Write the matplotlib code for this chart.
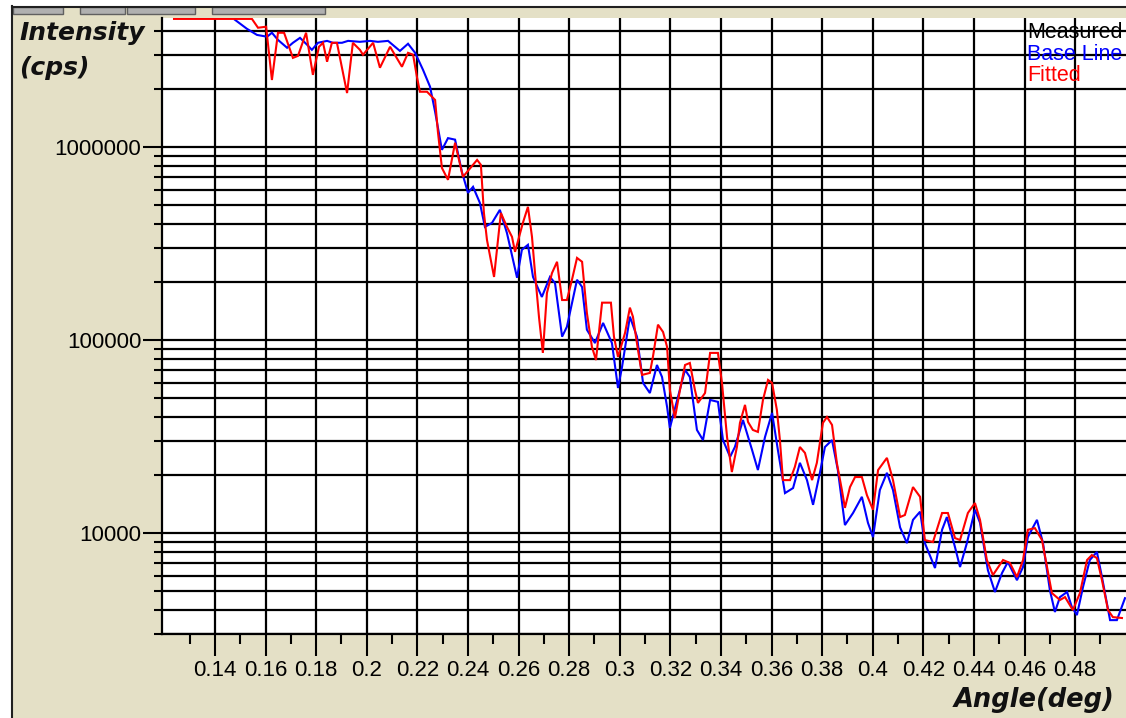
import matplotlib
matplotlib.use("Agg")
import matplotlib.pyplot as plt
from matplotlib.ticker import FixedLocator, FixedFormatter, NullFormatter, LogLocator
from matplotlib.patches import Rectangle
from matplotlib.lines import Line2D

# ---------------- data ----------------
angle_fitted = [0.1238, 0.1546, 0.1570, 0.1602, 0.1625, 0.1649, 0.1673, 0.1708, 0.1728, 0.1760,
                0.1787, 0.1811, 0.1827, 0.1843, 0.1862, 0.1882, 0.1922, 0.1945, 0.1973, 0.1985,
                0.2025, 0.2052, 0.2092, 0.2139, 0.2163, 0.2183, 0.2198, 0.2210, 0.2238, 0.2270,
                0.2281, 0.2297, 0.2321, 0.2349, 0.2380, 0.2436, 0.2451, 0.2463, 0.2475, 0.2503,
                0.2530, 0.2554, 0.2574, 0.2586, 0.2617, 0.2637, 0.2653, 0.2665, 0.2681, 0.2696,
                0.2712, 0.2732, 0.2752, 0.2772, 0.2791, 0.2811, 0.2831, 0.2851, 0.2870, 0.2890,
                0.2906, 0.2930, 0.2965, 0.2977, 0.2993, 0.3021, 0.3040, 0.3052, 0.3072, 0.3088,
                0.3119, 0.3131, 0.3151, 0.3171, 0.3187, 0.3198, 0.3218, 0.3238, 0.3258, 0.3277,
                0.3297, 0.3309, 0.3337, 0.3357, 0.3388, 0.3404, 0.3424, 0.3443, 0.3463, 0.3475,
                0.3495, 0.3507, 0.3526, 0.3546, 0.3566, 0.3586, 0.3602, 0.3621, 0.3633, 0.3645,
                0.3673, 0.3692, 0.3712, 0.3732, 0.3760, 0.3779, 0.3803, 0.3819, 0.3839, 0.3858,
                0.3878, 0.3890, 0.3910, 0.3930, 0.3957, 0.3977, 0.4001, 0.4021, 0.4056, 0.4080,
                0.4108, 0.4127, 0.4159, 0.4187, 0.4206, 0.4238, 0.4274, 0.4297, 0.4325, 0.4345,
                0.4376, 0.4404, 0.4424, 0.4451, 0.4475, 0.4515, 0.4542, 0.4570, 0.4594, 0.4613,
                0.4641, 0.4669, 0.4689, 0.4708, 0.4740, 0.4760, 0.4791, 0.4819, 0.4847, 0.4866,
                0.4886, 0.4906, 0.4930, 0.4949, 0.4985]
cps_fitted = [4.60e6, 4.60e6, 4.14e6, 4.19e6, 2.22e6, 3.90e6, 3.90e6, 2.89e6, 2.96e6, 3.90e6,
              2.36e6, 3.30e6, 3.46e6, 2.76e6, 3.46e6, 3.46e6, 1.90e6, 3.46e6, 3.18e6, 3.00e6,
              3.46e6, 2.57e6, 3.30e6, 2.60e6, 3.07e6, 3.00e6, 2.31e6, 1.93e6, 1.93e6, 1.75e6,
              1.20e6, 778000, 675000, 1.05e6, 699000, 856000, 807000, 455000, 330000, 212000,
              455000, 385000, 342000, 286000, 404000, 489000, 342000, 222000, 130000, 85700,
              175000, 222000, 254000, 161000, 161000, 205000, 266000, 254000, 138000, 92000,
              78700, 156000, 156000, 104000, 81700, 109000, 147000, 132000, 88700, 65900,
              67500, 81700, 120000, 110000, 92000, 55100, 39400, 55100, 74200, 76000,
              55100, 47200, 53100, 85700, 85700, 59900, 31400, 20700, 27900, 37200,
              46100, 37600, 34200, 33400, 48900, 62100, 59900, 43400, 30300, 18800,
              18800, 22000, 27900, 26000, 18800, 23100, 37200, 39900, 36300, 23100,
              16700, 13500, 17300, 19500, 19500, 15700, 13200, 21200, 24500, 18800,
              12100, 12400, 17300, 15400, 9200, 8980, 12700, 12700, 9420, 9200,
              12700, 14300, 11700, 7250, 6060, 7250, 7000, 5920, 7250, 10400,
              10600, 9200, 6670, 4890, 4500, 4660, 3990, 4890, 7250, 7690,
              7420, 5700, 3990, 3670, 3630]

angle_base = [0.1479, 0.1526, 0.1566, 0.1606, 0.1625, 0.1649, 0.1685, 0.1708, 0.1736, 0.1764,
              0.1783, 0.1807, 0.1843, 0.1866, 0.1902, 0.1926, 0.1973, 0.2013, 0.2044, 0.2084,
              0.2131, 0.2163, 0.2191, 0.2222, 0.2250, 0.2270, 0.2297, 0.2321, 0.2349, 0.2376,
              0.2400, 0.2420, 0.2447, 0.2467, 0.2495, 0.2526, 0.2554, 0.2594, 0.2613, 0.2637,
              0.2657, 0.2692, 0.2724, 0.2744, 0.2772, 0.2791, 0.2831, 0.2851, 0.2870, 0.2902,
              0.2934, 0.2969, 0.2993, 0.3009, 0.3040, 0.3068, 0.3092, 0.3119, 0.3147, 0.3167,
              0.3187, 0.3198, 0.3230, 0.3258, 0.3277, 0.3305, 0.3329, 0.3357, 0.3388, 0.3408,
              0.3436, 0.3455, 0.3487, 0.3523, 0.3546, 0.3574, 0.3602, 0.3625, 0.3653, 0.3685,
              0.3712, 0.3740, 0.3764, 0.3791, 0.3811, 0.3839, 0.3862, 0.3890, 0.3922, 0.3957,
              0.3981, 0.4001, 0.4028, 0.4056, 0.4080, 0.4108, 0.4135, 0.4159, 0.4187, 0.4206,
              0.4246, 0.4274, 0.4293, 0.4325, 0.4345, 0.4372, 0.4404, 0.4424, 0.4455, 0.4483,
              0.4511, 0.4534, 0.4570, 0.4594, 0.4613, 0.4649, 0.4673, 0.4700, 0.4720, 0.4740,
              0.4768, 0.4787, 0.4807, 0.4831, 0.4858, 0.4886, 0.4906, 0.4938, 0.4965, 0.4997]
cps_base = [4.55e6, 4.09e6, 3.80e6, 3.72e6, 3.90e6, 3.58e6, 3.26e6, 3.46e6, 3.67e6, 3.38e6,
            3.18e6, 3.46e6, 3.54e6, 3.46e6, 3.46e6, 3.54e6, 3.50e6, 3.54e6, 3.50e6, 3.54e6,
            3.14e6, 3.42e6, 3.07e6, 2.51e6, 2.05e6, 1.52e6, 965000, 1.11e6, 1.09e6, 742000,
            578000, 621000, 513000, 385000, 404000, 472000, 358000, 210000, 293000, 311000,
            212000, 167000, 212000, 197000, 104000, 117000, 205000, 188000, 113000, 96400,
            122500, 96400, 56400, 72500, 132000, 104000, 59900, 53100, 74200, 64300,
            45000, 35000, 50700, 70000, 64300, 34200, 30300, 48900, 47800, 30300,
            24800, 27900, 38500, 26900, 21200, 31400, 41900, 26900, 16100, 17100,
            23100, 18800, 14000, 20500, 27900, 30300, 21200, 11000, 12700, 15400,
            11300, 9530, 16700, 20500, 16700, 10700, 8870, 11700, 12900, 8870,
            6590, 10400, 12100, 8460, 6670, 8870, 13200, 11300, 6430, 4950,
            6210, 7080, 5700, 6670, 9530, 11700, 8870, 5070, 3900, 4660,
            4950, 4140, 3760, 5250, 7250, 7980, 5920, 3540, 3540, 4600]

x_major_ticks = [0.14, 0.16, 0.18, 0.20, 0.22, 0.24, 0.26, 0.28, 0.30, 0.32,
                 0.34, 0.36, 0.38, 0.40, 0.42, 0.44, 0.46, 0.48]
x_tick_labels = ["0.14", "0.16", "0.18", "0.2", "0.22", "0.24", "0.26", "0.28", "0.3", "0.32",
                 "0.34", "0.36", "0.38", "0.4", "0.42", "0.44", "0.46", "0.48"]
x_minor_ticks = [0.13, 0.15, 0.17, 0.19, 0.21, 0.23, 0.25, 0.27, 0.29, 0.31,
                 0.33, 0.35, 0.37, 0.39, 0.41, 0.43, 0.45, 0.47, 0.49]
y_major_ticks = [1e4, 1e5, 1e6]
y_tick_labels = ["10000", "100000", "1000000"]
legend_labels = ["Measured", "Base Line", "Fitted"]
legend_colors = ["#000000", "#0000FF", "#FF0000"]
x_range = (0.11905, 0.5001)
y_range = (3000, 4.65e6)

# ---------------- figure ----------------
W, H = 1126, 718
BEIGE = "#E4E0C6"
plt.rcParams["font.family"] = ["Liberation Sans", "DejaVu Sans"]

fig = plt.figure(figsize=(W / 100, H / 100), dpi=100)
fig.patch.set_facecolor(BEIGE)


def fx(px):
    return px / W


def fy(py):
    return 1 - py / H


# window chrome
fig.add_artist(Rectangle((0, 0), fx(12), 1, transform=fig.transFigure,
                         facecolor="white", edgecolor="none", zorder=0))
fig.add_artist(Rectangle((0, fy(6)), 1, 6 / H, transform=fig.transFigure,
                         facecolor="white", edgecolor="none", zorder=0))
fig.add_artist(Line2D([fx(12), fx(12)], [0, fy(6)], transform=fig.transFigure,
                      color="#202020", lw=1.5))
fig.add_artist(Line2D([fx(12), 1], [fy(6.5), fy(6.5)], transform=fig.transFigure,
                      color="#202020", lw=1.5))
for x0, x1 in [(13, 63), (80, 125), (127, 195), (212, 325)]:
    fig.add_artist(Rectangle((fx(x0), fy(14)), (x1 - x0) / W, 7 / H,
                             transform=fig.transFigure, facecolor="#B0B0B0",
                             edgecolor="#606060", lw=1.0))

ax = fig.add_axes([fx(162), fy(634), (1126 - 162) / W, (634 - 18) / H])
ax.set_facecolor("white")
ax.set_yscale("log")
ax.set_xlim(*x_range)
ax.set_ylim(*y_range)

# grid
ax.set_axisbelow(True)
ax.xaxis.set_major_locator(FixedLocator(x_major_ticks))
ax.xaxis.set_major_formatter(FixedFormatter(x_tick_labels))
ax.xaxis.set_minor_locator(FixedLocator(x_minor_ticks))
ax.xaxis.set_minor_formatter(NullFormatter())
ax.yaxis.set_major_locator(FixedLocator(y_major_ticks))
ax.yaxis.set_major_formatter(FixedFormatter(y_tick_labels))
ax.yaxis.set_minor_locator(LogLocator(base=10, subs=[2, 3, 4, 5, 6, 7, 8, 9], numticks=20))
ax.yaxis.set_minor_formatter(NullFormatter())

ax.grid(True, which="major", axis="x", color="black", lw=1.6)
ax.grid(True, which="both", axis="y", color="black", lw=1.6)

for s in ["top", "right"]:
    ax.spines[s].set_visible(False)
for s in ["left", "bottom"]:
    ax.spines[s].set_color("black")
    ax.spines[s].set_linewidth(1.6)

ax.tick_params(axis="x", which="major", direction="out", length=15.5, width=1.5,
               labelsize=16, pad=3, colors="black")
ax.tick_params(axis="x", which="minor", direction="out", length=7, width=1.5)
ax.tick_params(axis="y", which="major", direction="out", length=14, width=1.5,
               labelsize=16, pad=1, colors="black")
ax.tick_params(axis="y", which="minor", direction="out", length=5.5, width=1.5)

# data
ax.plot(angle_base, cps_base, color="#0000FF", lw=1.5, zorder=3, solid_joinstyle="miter")
ax.plot(angle_fitted, cps_fitted, color="#FF0000", lw=1.5, zorder=4, solid_joinstyle="miter")

# labels
lab_kw = dict(fontfamily="DejaVu Sans", fontweight="bold", fontstyle="italic", color="#111111")
fig.text(fx(19), fy(40), "Intensity", ha="left", va="baseline", fontsize=18, **lab_kw)
fig.text(fx(19), fy(75), "(cps)", ha="left", va="baseline", fontsize=18, **lab_kw)
fig.text(fx(1114), fy(707), "Angle(deg)", ha="right", va="baseline", fontsize=18.5, **lab_kw)

# legend text
for i, (lbl, col) in enumerate(zip(legend_labels, legend_colors)):
    fig.text(fx(1027), fy(38 + 21.5 * i), lbl, ha="left", va="baseline",
             fontsize=15.5, color=col, zorder=10)

fig.savefig("out.png", dpi=100, facecolor=fig.get_facecolor())
